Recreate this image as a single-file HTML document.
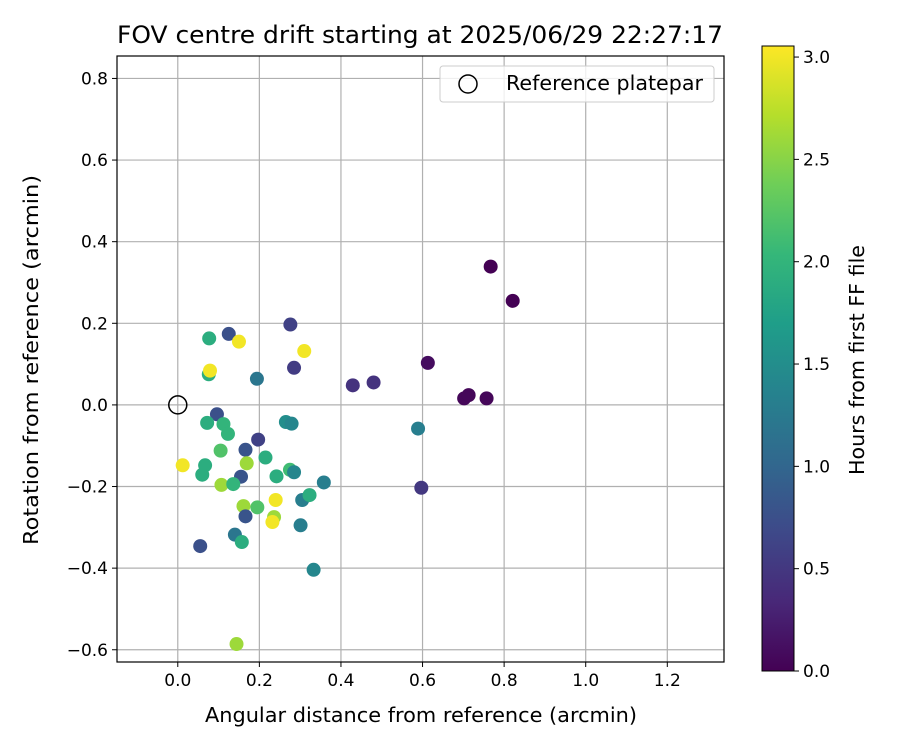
<!DOCTYPE html>
<html><head><meta charset="utf-8"><style>
html,body{margin:0;padding:0;background:#fff;}
svg{display:block;font-family:"DejaVu Sans","Liberation Sans",sans-serif;}
</style></head><body>
<svg id="chart" width="900" height="750" viewBox="0 0 900 750" xmlns="http://www.w3.org/2000/svg">
<defs>
<linearGradient id="vir" x1="0" y1="1" x2="0" y2="0">
<stop offset="0" stop-color="#440154"/><stop offset="0.111" stop-color="#482878"/><stop offset="0.222" stop-color="#3e4989"/><stop offset="0.333" stop-color="#31688e"/><stop offset="0.444" stop-color="#26828e"/><stop offset="0.556" stop-color="#1f9e89"/><stop offset="0.667" stop-color="#35b779"/><stop offset="0.778" stop-color="#6ece58"/><stop offset="0.889" stop-color="#b5de2b"/><stop offset="1" stop-color="#fde725"/>
</linearGradient>
</defs>
<text x="420" y="43" font-size="24" text-anchor="middle" textLength="606" lengthAdjust="spacingAndGlyphs">FOV centre drift starting at 2025/06/29 22:27:17</text>
<g id="grid"></g>
<g id="marks"></g>
<rect x="117" y="56" width="607" height="606" fill="none" stroke="#000" stroke-width="1.2"/>
<g id="ticks" font-size="17"></g>
<text x="421" y="722" font-size="20" text-anchor="middle" textLength="432" lengthAdjust="spacingAndGlyphs">Angular distance from reference (arcmin)</text>
<text transform="translate(38,360) rotate(-90)" font-size="20" text-anchor="middle" textLength="370" lengthAdjust="spacingAndGlyphs">Rotation from reference (arcmin)</text>
<g>
<rect x="440" y="66" width="274" height="36" rx="3" fill="#fff" fill-opacity="0.8" stroke="#ccc"/>
<circle cx="468" cy="84" r="9" fill="none" stroke="#000" stroke-width="1.5"/>
<text x="506" y="90" font-size="20" textLength="197" lengthAdjust="spacingAndGlyphs">Reference platepar</text>
</g>
<rect x="762" y="46" width="32" height="625" fill="url(#vir)" stroke="#000" stroke-width="1"/>
<g id="cticks" font-size="17"></g>
<text transform="translate(864,360) rotate(-90)" font-size="20" text-anchor="middle" textLength="230" lengthAdjust="spacingAndGlyphs">Hours from first FF file</text>
</svg>
<script>
const xs=[0.767,0.821,0.613,0.429,0.480,0.702,0.713,0.757,0.589,0.597,0.276,0.077,0.125,0.150,0.310,0.285,0.076,0.079,0.194,0.096,0.072,0.112,0.123,0.265,0.279,0.197,0.105,0.166,0.215,0.012,0.067,0.169,0.060,0.155,0.242,0.275,0.285,0.358,0.107,0.136,0.305,0.323,0.240,0.161,0.195,0.166,0.236,0.232,0.301,0.140,0.157,0.055,0.333,0.144];
const ys=[0.339,0.255,0.103,0.048,0.055,0.016,0.024,0.016,-0.058,-0.203,0.197,0.163,0.174,0.155,0.132,0.091,0.075,0.084,0.064,-0.023,-0.044,-0.047,-0.071,-0.042,-0.046,-0.085,-0.112,-0.110,-0.129,-0.148,-0.148,-0.143,-0.171,-0.176,-0.175,-0.159,-0.165,-0.190,-0.196,-0.194,-0.233,-0.221,-0.233,-0.248,-0.251,-0.273,-0.275,-0.287,-0.295,-0.318,-0.336,-0.346,-0.404,-0.586];
const hours=[0.0,0.0,0.1,0.45,0.45,0.05,0.05,0.05,1.3,0.5,0.6,1.9,0.75,3.0,3.0,0.55,1.9,3.0,1.2,0.75,1.9,2.0,2.0,1.5,1.4,0.6,2.2,0.8,1.9,3.0,1.9,2.6,1.9,0.8,1.9,2.1,1.4,1.3,2.6,2.0,1.3,1.9,3.0,2.6,2.2,0.8,2.6,3.0,1.3,1.2,1.9,0.75,1.4,2.6];
const xTicks=[0.0,0.2,0.4,0.6,0.8,1.0,1.2];
const yTicks=[-0.6,-0.4,-0.2,0.0,0.2,0.4,0.6,0.8];
const cTicks=[0.0,0.5,1.0,1.5,2.0,2.5,3.0];
const L=117,R=724,T=56,B=662;
const xMin=-0.149,xMax=1.339,yMin=-0.630,yMax=0.855,cMax=3.054;
const sx=v=>L+(v-xMin)/(xMax-xMin)*(R-L);
const sy=v=>B-(v-yMin)/(yMax-yMin)*(B-T);
const sc=v=>671-v/cMax*625;
const vir=["#440154","#482878","#3e4989","#31688e","#26828e","#1f9e89","#35b779","#6ece58","#b5de2b","#fde725"];
function cmap(v){let t=Math.max(0,Math.min(1,v/cMax))*(vir.length-1);let i=Math.min(Math.floor(t),vir.length-2),f=t-i;
const a=vir[i],b=vir[i+1];const h=(s,k)=>parseInt(s.substr(1+2*k,2),16);
let c=[0,1,2].map(k=>Math.round(h(a,k)+(h(b,k)-h(a,k))*f));return `rgb(${c})`;}
const NS="http://www.w3.org/2000/svg";
function mk(tag,attrs,parent){const e=document.createElementNS(NS,tag);for(const k in attrs)e.setAttribute(k,attrs[k]);parent.appendChild(e);return e;}
const grid=document.getElementById('grid'),ticks=document.getElementById('ticks'),marks=document.getElementById('marks'),ct=document.getElementById('cticks');
xTicks.forEach(v=>{const x=sx(v);
const g=mk('line',{x1:x,x2:x,y1:T,y2:B,stroke:'#b0b0b0','stroke-width':1.2},grid);


mk('line',{x1:x,x2:x,y1:B,y2:B+5,stroke:'#000'},ticks);
const t=mk('text',{x:x,y:B+24,'text-anchor':'middle'},ticks);t.textContent=v.toFixed(1);

});
yTicks.forEach(v=>{const y=sy(v);
const g=mk('line',{x1:L,x2:R,y1:y,y2:y,stroke:'#b0b0b0','stroke-width':1.2},grid);


mk('line',{x1:L-5,x2:L,y1:y,y2:y,stroke:'#000'},ticks);
const t=mk('text',{x:L-9,y:y+6,'text-anchor':'end'},ticks);t.textContent=(v<0?'\u2212':'')+Math.abs(v).toFixed(1);

});
cTicks.forEach(v=>{const y=sc(v);
mk('line',{x1:794,x2:799,y1:y,y2:y,stroke:'#000'},ct);
const t=mk('text',{x:803,y:y+6},ct);t.textContent=v.toFixed(1);

});
xs.forEach((x,i)=>{const c=mk('circle',{cx:sx(x),cy:sy(ys[i]),r:7,fill:cmap(hours[i])},marks);

});
const ref=mk('circle',{cx:sx(0),cy:sy(0),r:9,fill:'none',stroke:'#000','stroke-width':1.5},marks);


</script>
</body></html>
